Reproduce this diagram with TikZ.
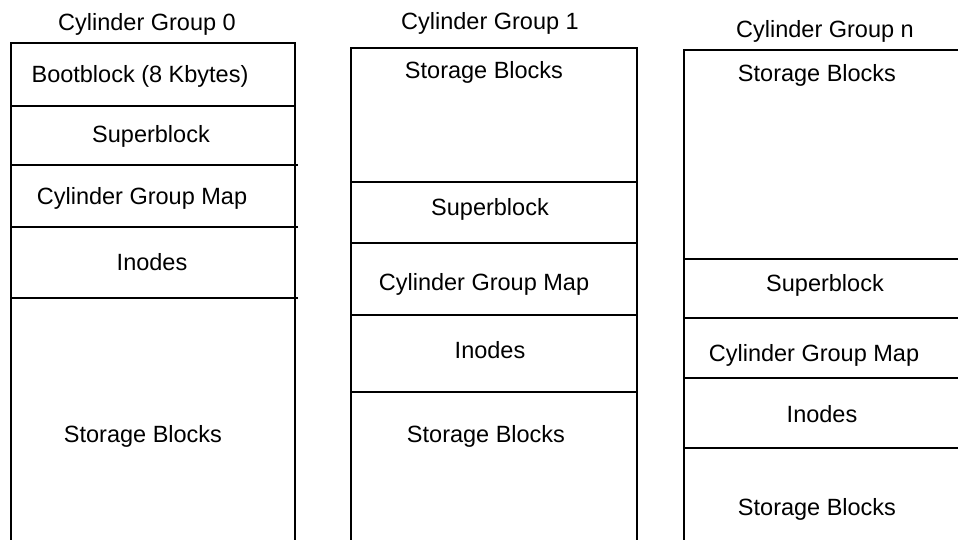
\documentclass[tikz,border=0pt]{standalone}
\usepackage{fontspec}
\setmainfont{Liberation Sans}
\begin{document}
\begin{tikzpicture}[x=1pt,y=-1pt,
  rule/.style={line width=1.8pt},
  txt/.style={anchor=base, inner sep=0pt, font=\fontsize{23.5}{28}\selectfont}]
\useasboundingbox (0,0) rectangle (958,540);
% Column 0
\draw[rule] (11,540) -- (11,43) -- (295,43) -- (295,540);
\draw[rule] (11,106) -- (295,106);
\draw[rule] (11,165) -- (298,165);
\draw[rule] (11,227) -- (298,227);
\draw[rule] (11,298) -- (298,298);
\node[txt] (t0) at (147,30.5) {Cylinder Group 0};
\node[txt] (a0) at (140,82.5) {Bootblock (8 Kbytes)};
\node[txt] (b0) at (151,142.5) {Superblock};
\node[txt] (c0) at (142,204.5) {Cylinder Group Map};
\node[txt] (d0) at (152,270.5) {Inodes};
\node[txt] (e0) at (143,442.5) {Storage Blocks};
% Column 1
\draw[rule] (351,540) -- (351,48) -- (637,48) -- (637,540);
\draw[rule] (351,182) -- (637,182);
\draw[rule] (351,243) -- (637,243);
\draw[rule] (351,315) -- (637,315);
\draw[rule] (351,392) -- (637,392);
\node[txt] (t1) at (490,29.5) {Cylinder Group 1};
\node[txt] (a1) at (484,78.5) {Storage Blocks};
\node[txt] (b1) at (490,215.5) {Superblock};
\node[txt] (c1) at (484,290.5) {Cylinder Group Map};
\node[txt] (d1) at (490,358.5) {Inodes};
\node[txt] (e1) at (486,442.5) {Storage Blocks};
% Column n
\draw[rule] (684,540) -- (684,50) -- (962,50);
\draw[rule] (684,259) -- (962,259);
\draw[rule] (684,318) -- (962,318);
\draw[rule] (684,378) -- (962,378);
\draw[rule] (684,448) -- (962,448);
\node[txt] (tn) at (825,38) {Cylinder Group n};
\node[txt] (an) at (817,81.5) {Storage Blocks};
\node[txt] (bn) at (825,291.5) {Superblock};
\node[txt] (cn) at (814,361.5) {Cylinder Group Map};
\node[txt] (dn) at (822,422.5) {Inodes};
\node[txt] (en) at (817,515.5) {Storage Blocks};
\end{tikzpicture}
\end{document}
